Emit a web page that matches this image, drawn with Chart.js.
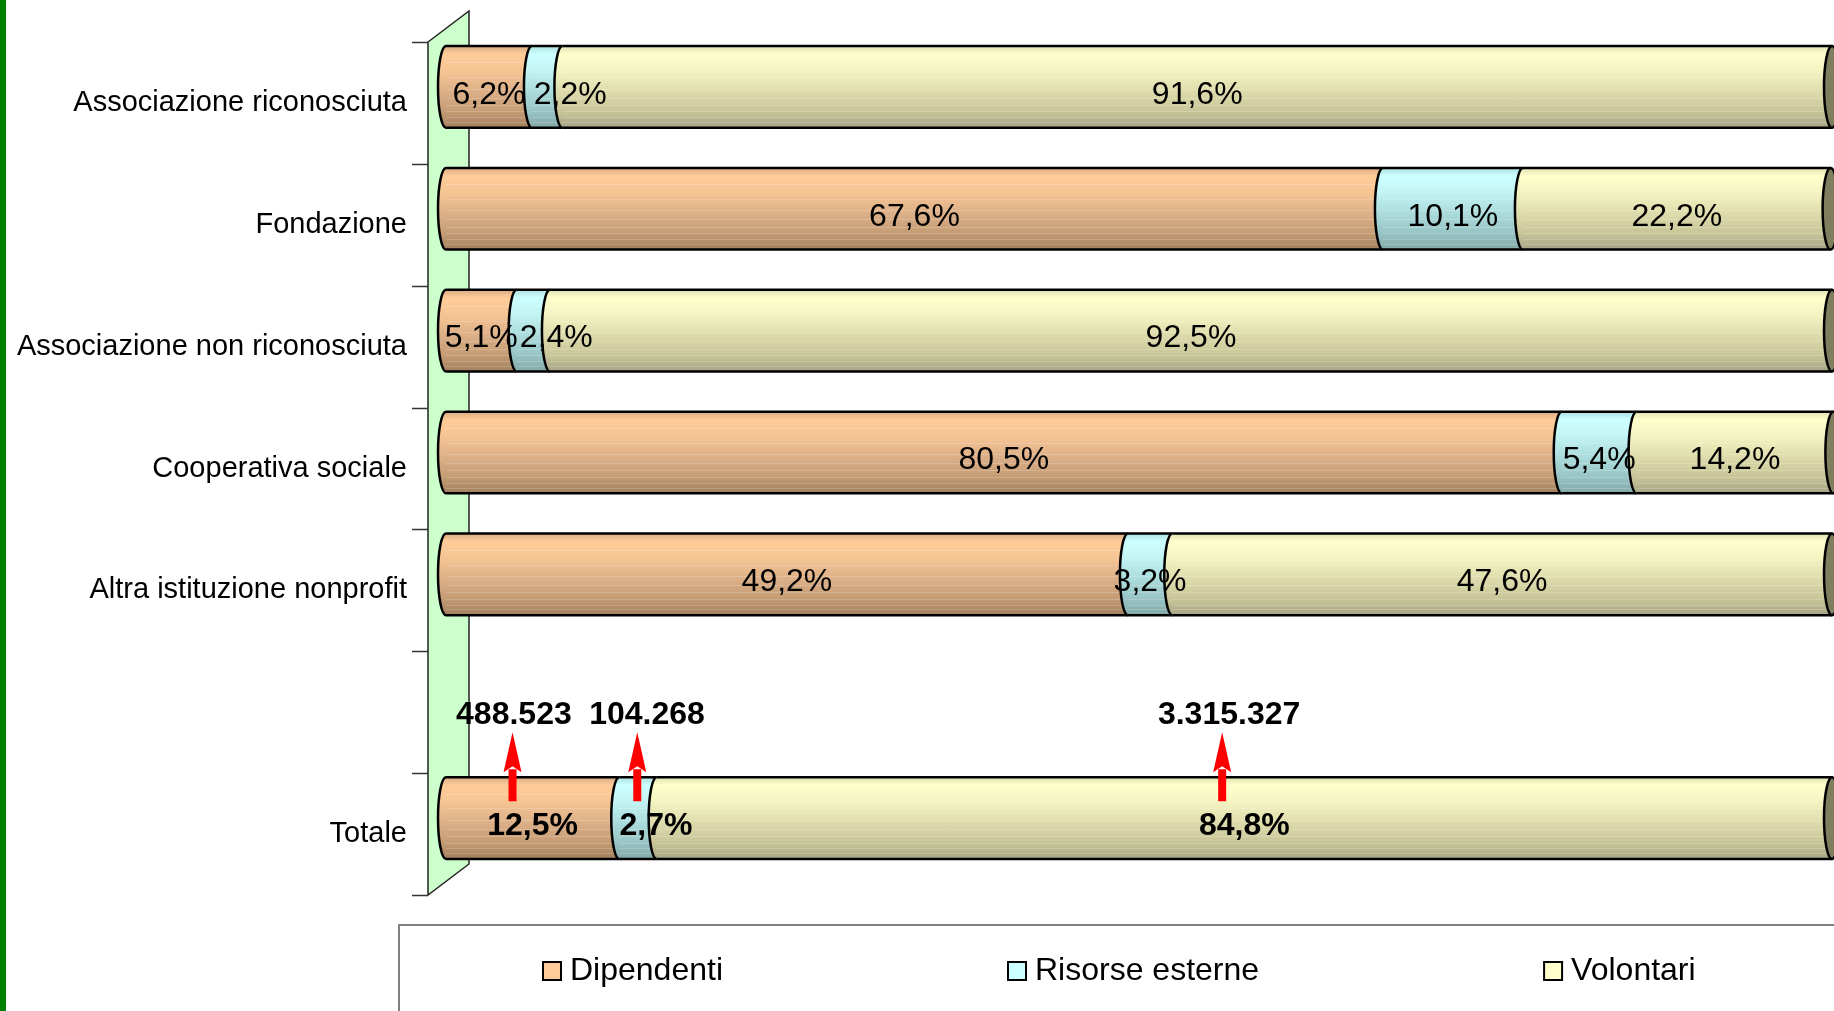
<!DOCTYPE html>
<html>
<head>
<meta charset="utf-8">
<script src="https://cdn.jsdelivr.net/npm/chart.js@4.4.1/dist/chart.umd.min.js"></script>
<style>
body { margin: 0; background: #fff; }
#wrap { width: 1834px; height: 1011px; position: relative; }
</style>
</head>
<body>
<div id="wrap"><canvas id="chart"></canvas></div>
<script>
const categories = ['Associazione riconosciuta', 'Fondazione', 'Associazione non riconosciuta', 'Cooperativa sociale', 'Altra istituzione nonprofit', '', 'Totale'];
const dipendenti = [6.2, 67.6, 5.1, 80.5, 49.2, null, 12.5];
const risorseEsterne = [2.2, 10.1, 2.4, 5.4, 3.2, null, 2.7];
const volontari = [91.6, 22.2, 92.5, 14.2, 47.6, null, 84.8];
const seriesNames = ['Dipendenti', 'Risorse esterne', 'Volontari'];
const seriesColors = ['#FFCC99', '#CCFFFF', '#FFFFCC'];

// absolute counts shown above the Totale bar, and where (in % units) they sit
const totaleCounts = ['488.523', '104.268', '3.315.327'];
const totaleCountAt = [4.9, 14.5, 56.5];
const totaleArrowAt = [4.8, 13.8, 56.0];

// Excel pushed some small labels sideways (pixels)
const labelNudge = { '0-1': 23, '2-1': 23, '6-1': 18 };

const FONT = '"Liberation Sans", Arial, sans-serif';
Chart.defaults.font.family = FONT;

const DEPTH_DY = -16;   // bars sit halfway into the 3D depth
const CAP_RX = 8;

const gradStops = {
    '#FFCC99': [[0, '#D8AC82'], [0.1, '#FFCC99'], [0.3, '#F6C594'], [0.55, '#DDB088'], [0.8, '#C49C74'], [1, '#A2805E']],
    '#CCFFFF': [[0, '#B0E0E0'], [0.1, '#CCFFFF'], [0.3, '#C2F4F4'], [0.55, '#ACDCDC'], [0.8, '#98C4C4'], [1, '#84A8A8']],
    '#FFFFCC': [[0, '#E0E0B4'], [0.1, '#FFFFCC'], [0.3, '#F4F4C2'], [0.55, '#DEDCAC'], [0.8, '#C8C698'], [1, '#A6A486']]
};

function fmt(v) { return v.toFixed(1).replace('.', ',') + '%'; }

const wallPlugin = {
    id: 'wall',
    beforeDatasetsDraw(chart) {
        const ctx = chart.ctx;
        const y = chart.scales.y;
        const front = chart.chartArea.left - 18, back = chart.chartArea.left + 23;
        const top = y.top, bottom = y.bottom;
        ctx.save();
        // green page border
        ctx.fillStyle = '#008000';
        ctx.fillRect(0, 0, 6, chart.height);
        // side wall
        ctx.beginPath();
        ctx.moveTo(front, top);
        ctx.lineTo(back, top - 31);
        ctx.lineTo(back, bottom - 31);
        ctx.lineTo(front, bottom);
        ctx.closePath();
        ctx.fillStyle = '#CCFFCC';
        ctx.fill();
        ctx.lineWidth = 1.5;
        ctx.strokeStyle = '#222';
        ctx.stroke();
        // tick marks between categories
        ctx.strokeStyle = '#333';
        ctx.lineWidth = 1.5;
        for (let i = 0; i <= categories.length; i++) {
            const py = Math.round(y.getPixelForValue(i - 0.5)) + 0.5;
            ctx.beginPath();
            ctx.moveTo(front - 16, py);
            ctx.lineTo(front, py);
            ctx.stroke();
        }
        ctx.restore();
    }
};

const cylinderPlugin = {
    id: 'cylinders',
    beforeDatasetDraw() { return false; },
    afterDatasetsDraw(chart) {
        const ctx = chart.ctx;
        const xs = chart.scales.x;
        const metas = chart.data.datasets.map((d, i) => chart.getDatasetMeta(i));
        ctx.save();
        for (let i = 0; i < categories.length; i++) {
            let lastEl = null;
            metas.forEach((meta, d) => {
                const v = chart.data.datasets[d].data[i];
                if (v == null) return;
                const el = meta.data[i];
                const cy = el.y + DEPTH_DY, ry = el.height / 2;
                const top = cy - ry, bottom = cy + ry;
                const g = ctx.createLinearGradient(0, top, 0, bottom);
                gradStops[seriesColors[d]].forEach(s => g.addColorStop(s[0], s[1]));
                ctx.beginPath();
                ctx.moveTo(el.base, top);
                ctx.ellipse(el.base, cy, CAP_RX, ry, 0, -Math.PI / 2, Math.PI / 2, true);
                ctx.lineTo(el.x, bottom);
                ctx.lineTo(el.x, top);
                ctx.closePath();
                ctx.fillStyle = g;
                ctx.fill();
                // faint stripes
                ctx.strokeStyle = 'rgba(255,255,255,0.18)';
                ctx.lineWidth = 1;
                [0.2, 0.38, 0.52, 0.63, 0.72, 0.8, 0.87, 0.93].forEach(f => {
                    const py = Math.round(top + f * el.height) + 0.5;
                    ctx.beginPath();
                    ctx.moveTo(el.base, py);
                    ctx.lineTo(el.x, py);
                    ctx.stroke();
                });
                ctx.strokeStyle = '#000';
                ctx.lineWidth = 2.5;
                ctx.beginPath();
                ctx.ellipse(el.base, cy, CAP_RX, ry, 0, -Math.PI / 2, Math.PI / 2, true);
                ctx.stroke();
                ctx.beginPath();
                ctx.moveTo(el.base, top); ctx.lineTo(el.x, top);
                ctx.moveTo(el.base, bottom); ctx.lineTo(el.x, bottom);
                ctx.stroke();
                lastEl = el;
            });
            if (lastEl) {
                const cy = lastEl.y + DEPTH_DY, ry = lastEl.height / 2;
                ctx.beginPath();
                ctx.ellipse(lastEl.x, cy, CAP_RX, ry, 0, 0, Math.PI * 2);
                ctx.fillStyle = '#7F7E5E';
                ctx.fill();
                ctx.strokeStyle = '#000';
                ctx.lineWidth = 2.5;
                ctx.stroke();
            }
        }

        // value labels
        ctx.fillStyle = '#000';
        ctx.textAlign = 'center';
        ctx.textBaseline = 'middle';
        for (let i = 0; i < categories.length; i++) {
            let start = 0;
            const bold = categories[i] === 'Totale';
            ctx.font = (bold ? 'bold 32px ' : '32px ') + FONT;
            metas.forEach((meta, d) => {
                const v = chart.data.datasets[d].data[i];
                if (v == null) return;
                const el = meta.data[i];
                const px = xs.getPixelForValue(start + v / 2) + (labelNudge[i + '-' + d] || 0);
                ctx.fillText(fmt(v), px, el.y + DEPTH_DY + 8);
                start += v;
            });
        }

        // counts and arrows above Totale
        const ti = categories.indexOf('Totale');
        const tel = metas[0].data[ti];
        const barTop = tel.y + DEPTH_DY - tel.height / 2;
        ctx.font = 'bold 32px ' + FONT;
        totaleCounts.forEach((txt, k) => {
            ctx.fillStyle = '#000';
            ctx.fillText(txt, xs.getPixelForValue(totaleCountAt[k]), barTop - 62);
            const ax = xs.getPixelForValue(totaleArrowAt[k]);
            ctx.fillStyle = '#FF0000';
            ctx.fillRect(ax - 4, barTop - 8, 8, 32);
            ctx.beginPath();
            ctx.moveTo(ax, barTop - 45);
            ctx.lineTo(ax + 9, barTop - 5);
            ctx.lineTo(ax, barTop - 11);
            ctx.lineTo(ax - 9, barTop - 5);
            ctx.closePath();
            ctx.fill();
        });
        ctx.restore();
    }
};

const legendPlugin = {
    id: 'boxLegend',
    afterDraw(chart) {
        const ctx = chart.ctx;
        ctx.save();
        ctx.strokeStyle = '#808080';
        ctx.lineWidth = 2;
        ctx.strokeRect(399, 925, chart.width, 200);
        ctx.font = '32px ' + FONT;
        ctx.textBaseline = 'middle';
        ctx.textAlign = 'left';
        let x = 543;
        const cy = 971;
        chart.data.datasets.forEach(ds => {
            ctx.fillStyle = ds.backgroundColor;
            ctx.fillRect(x, cy - 9, 18, 18);
            ctx.strokeStyle = '#000';
            ctx.lineWidth = 2;
            ctx.strokeRect(x, cy - 9, 18, 18);
            ctx.fillStyle = '#000';
            ctx.fillText(ds.label, x + 27, cy);
            x += 27 + ctx.measureText(ds.label).width + 285;
        });
        ctx.restore();
    }
};

new Chart(document.getElementById('chart'), {
    type: 'bar',
    data: {
        labels: categories,
        datasets: [
            { label: seriesNames[0], data: dipendenti, backgroundColor: seriesColors[0] },
            { label: seriesNames[1], data: risorseEsterne, backgroundColor: seriesColors[1] },
            { label: seriesNames[2], data: volontari, backgroundColor: seriesColors[2] }
        ]
    },
    options: {
        indexAxis: 'y',
        responsive: true,
        maintainAspectRatio: false,
        animation: false,
        layout: { padding: { left: 0, right: 2, top: 42, bottom: 116 } },
        datasets: { bar: { categoryPercentage: 1, barPercentage: 0.67 } },
        plugins: { legend: { display: false }, tooltip: { enabled: false } },
        scales: {
            x: { stacked: true, min: 0, max: 100, display: false },
            y: {
                stacked: true,
                grid: { display: false, drawTicks: false },
                border: { display: false },
                ticks: { autoSkip: false, padding: 39, color: '#000', font: { size: 29 } },
                afterFit(scale) {
                    scale.width = 446;
                    scale.paddingTop = 0;
                    scale.paddingBottom = 0;
                }
            }
        }
    },
    plugins: [wallPlugin, cylinderPlugin, legendPlugin]
});
</script>
</body>
</html>
